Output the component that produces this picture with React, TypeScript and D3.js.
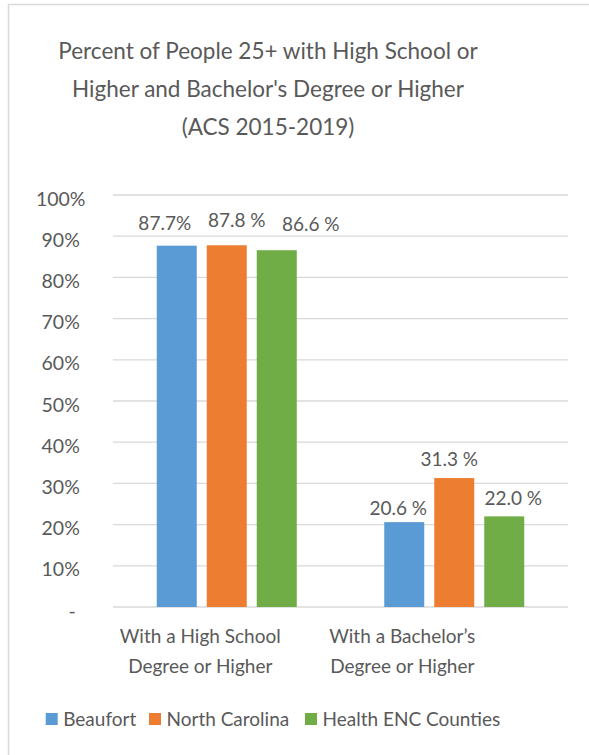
import React from "react";
import * as d3 from "d3";

const categories = ["With a High School|Degree or Higher", "With a Bachelor\u2019s|Degree or Higher"];
const series = ["Beaufort", "North Carolina", "Health ENC Counties"];
const beaufort = [0.877, 0.206];
const northCarolina = [0.878, 0.313];
const healthENC = [0.866, 0.22];
const dataLabels = [
  ["87.7%", "20.6 %"],
  ["87.8 %", "31.3 %"],
  ["86.6 %", "22.0 %"],
];
const yTicks = [0, 0.1, 0.2, 0.3, 0.4, 0.5, 0.6, 0.7, 0.8, 0.9, 1.0];
const titleLines = [
  "Percent of People 25+ with High School or",
  "Higher and Bachelor's Degree or Higher",
  "(ACS 2015-2019)",
];

const values = [beaufort, northCarolina, healthENC];
const colors = ["#5B9BD5", "#ED7D31", "#70AD47"];
// label nudges [dx, dy] per series per category (layout)
const labelNudges = [
  [[-12, -16], [-6, -7]],
  [[10, -18.5], [-5, -12.5]],
  [[34, -19.5], [9, -11.5]],
];
const catLabelDx = [-26.5, -52];
const legendX = [45.7, 149, 305];

const FONT = "Lato, 'Open Sans', sans-serif";
const TEXT = "#595959";

export default function App() {
  const W = 589, H = 755;
  const y = d3.scaleLinear().domain([0, 1]).range([607, 195]);
  const x0 = d3.scaleBand().domain(categories).range([113, 568]);
  const x1 = d3.scaleBand().domain(series).range([-75, 75]).paddingInner(0.2).paddingOuter(0.1);
  const fmt = (v: number) => (v === 0 ? "-" : d3.format(".0%")(v));

  return (
    <svg width={W} height={H} style={{ position: "absolute", left: 0, top: 0, background: "#fff" }} fontFamily={FONT}>
      <rect x={0} y={0} width={W} height={H} fill="#fff" />
      <path d={`M8.5,${H} V4.5 H${W}`} fill="none" stroke="#D9D9D9" strokeWidth={1.5} />
      {titleLines.map((t, i) => (
        <text key={i} x={268} y={58.5 + i * 38.3} textAnchor="middle" fontSize={22.5} fill={TEXT}>{t}</text>
      ))}
      {yTicks.map((t) => (
        <g key={t}>
          <line x1={113} x2={568} y1={y(t)} y2={y(t)} stroke="#D9D9D9" strokeWidth={1.3} />
          <text x={t === 0 ? 72 : 60.7} y={y(t) + 10.5} textAnchor="middle" fontSize={19.5} fill={TEXT}>{fmt(t)}</text>
        </g>
      ))}
      {categories.map((c, ci) => {
        const cx = (x0(c) as number) + x0.bandwidth() / 2;
        return (
          <g key={c}>
            {series.map((s, si) => {
              const bx = cx + (x1(s) as number);
              const v = values[si][ci];
              return (
                <g key={s}>
                  <rect x={bx} y={y(v)} width={x1.bandwidth()} height={y(0) - y(v)} fill={colors[si]} />
                  <text
                    x={bx + x1.bandwidth() / 2 + labelNudges[si][ci][0]}
                    y={y(v) + labelNudges[si][ci][1]}
                    textAnchor="middle"
                    fontSize={19}
                    fill={TEXT}
                  >
                    {dataLabels[si][ci]}
                  </text>
                </g>
              );
            })}
            {c.split("|").map((line, li) => (
              <text key={li} x={cx + catLabelDx[ci]} y={643 + li * 30} textAnchor="middle" fontSize={19} fill={TEXT}>{line}</text>
            ))}
          </g>
        );
      })}
      {series.map((s, si) => (
        <g key={s}>
          <rect x={legendX[si]} y={713} width={12} height={12} fill={colors[si]} />
          <text x={legendX[si] + 17.5} y={726} fontSize={19} fill={TEXT}>{s}</text>
        </g>
      ))}
    </svg>
  );
}
